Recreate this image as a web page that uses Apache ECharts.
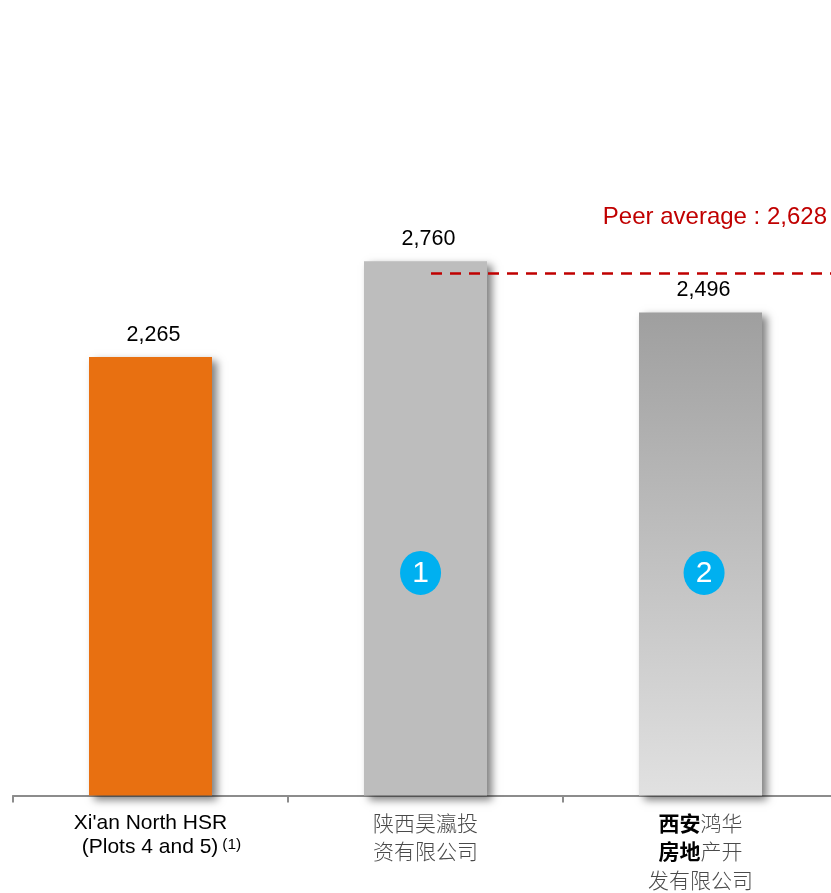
<!DOCTYPE html>
<html>
<head>
<meta charset="utf-8">
<style>html,body{margin:0;padding:0;background:#fff}#chart{width:831px;height:893px}</style>
<script src="https://cdn.jsdelivr.net/npm/echarts@6/dist/echarts.min.js"></script>
</head>
<body>
<div id="chart"></div>
<script>
// Land value per project
const categories = ['xian', 'haoying', 'hongHua'];
const unitValues = [2265, 2760, 2496];
const peerAverage = 2628;
const peerAverageText = 'Peer average : 2,628';

// Numbered badges placed along the category scale
const badgeNumbers = ['1', '2'];
const badgeCategoryPositions = [1.482, 2.513];
const badgeLevel = 1150;

// The average line runs from the second bar to the last band edge
const averageLineSpan = [1.52, 3];

const sansFont = '"Liberation Sans", Arial, sans-serif';
const cjkFont = '"Liberation Sans", "Noto Sans CJK SC", sans-serif';

const categoryLabels = {
  xian: "{lat|Xi'an North HSR}\n{lat2|(Plots 4 and 5)}{sup|(1)}",
  haoying: '{cn|陕西昊瀛投}\n{cn|资有限公司}',
  hongHua: '{cnb|西安}{cn|鸿华}\n{cnb|房地}{cn|产开}\n{cn|发有限公司}'
};

const barFills = [
  '#e87011',
  '#bdbdbd',
  new echarts.graphic.LinearGradient(0, 0, 0, 1, [
    { offset: 0, color: '#9f9f9f' },
    { offset: 1, color: '#e1e1e1' }
  ])
];

const chart = echarts.init(document.getElementById('chart'), null, { renderer: 'canvas' });
chart.setOption({
  animation: false,
  backgroundColor: '#ffffff',
  grid: { left: 13, top: 195.5, width: 825, height: 600, containLabel: false, outerBoundsMode: 'none' },
  xAxis: [
    {
      type: 'category',
      data: categories,
      axisLine: { lineStyle: { color: '#8c8c8c', width: 2 } },
      axisTick: { show: true, length: 7, lineStyle: { color: '#8c8c8c', width: 2 } },
      axisLabel: {
        margin: 15,
        interval: 0,
        formatter: v => categoryLabels[v],
        rich: {
          lat: { fontFamily: sansFont, fontSize: 21, color: '#000', lineHeight: 26 },
          lat2: { fontFamily: sansFont, fontSize: 21, color: '#000', lineHeight: 22, padding: [0, 0, 0, 22] },
          sup: { fontFamily: sansFont, fontSize: 15.5, color: '#000', lineHeight: 10, verticalAlign: 'top', padding: [0, 0, 0, 4] },
          cn: { fontFamily: cjkFont, fontSize: 21, fontWeight: 300, color: '#4a4a4a', lineHeight: 28.5 },
          cnb: { fontFamily: cjkFont, fontSize: 21, fontWeight: 700, color: '#000', lineHeight: 28.5 }
        }
      }
    },
    { type: 'value', min: 0, max: 3, show: false }
  ],
  yAxis: [
    { type: 'value', min: 0, max: 3100, show: false },
    // The average line keeps its own scale, separate from the bars
    { type: 'value', min: 0, max: 3020, show: false }
  ],
  series: [
    {
      type: 'bar',
      barWidth: 123,
      data: unitValues.map((v, i) => ({
        value: v,
        itemStyle: {
          color: barFills[i],
          shadowColor: 'rgba(0,0,0,0.5)',
          shadowBlur: 8,
          shadowOffsetX: 5,
          shadowOffsetY: 4
        }
      })),
      label: {
        show: true,
        position: 'top',
        distance: 12,
        offset: [3, 1],
        fontFamily: sansFont,
        fontSize: 21.5,
        color: '#000',
        formatter: p => p.value.toLocaleString('en-US')
      },
      z: 2
    },
    {
      type: 'line',
      xAxisIndex: 1,
      yAxisIndex: 1,
      symbol: 'none',
      silent: true,
      data: [
        [averageLineSpan[0], peerAverage],
        [averageLineSpan[1], peerAverage]
      ],
      lineStyle: { color: '#c00000', width: 2.5, type: [11, 8] },
      endLabel: {
        show: true,
        align: 'right',
        verticalAlign: 'middle',
        distance: 0,
        offset: [-11, -56],
        fontFamily: sansFont,
        fontSize: 24,
        color: '#c00000',
        formatter: peerAverageText
      },
      z: 4
    },
    {
      type: 'scatter',
      xAxisIndex: 1,
      yAxisIndex: 0,
      symbol: 'circle',
      symbolSize: [41, 44],
      itemStyle: { color: '#00b0f0', opacity: 1 },
      data: badgeNumbers.map((n, i) => ({ value: [badgeCategoryPositions[i], badgeLevel], name: n })),
      label: {
        show: true,
        position: 'inside',
        offset: [0, 1],
        fontFamily: sansFont,
        fontSize: 30,
        color: '#ffffff',
        formatter: p => p.name
      },
      z: 5
    }
  ]
});
</script>
</body>
</html>
